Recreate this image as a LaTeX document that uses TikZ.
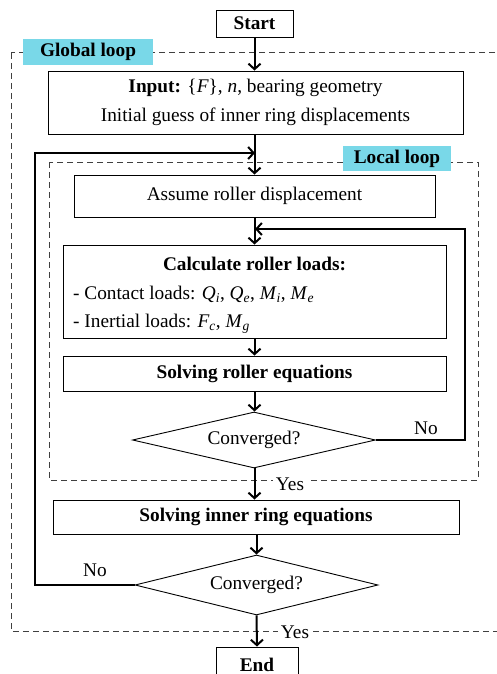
\documentclass[tikz,border=0pt]{standalone}
\usepackage{fontspec}
\setmainfont{Liberation Serif}
\usetikzlibrary{shapes.geometric,arrows.meta}
\definecolor{labcyan}{RGB}{121,216,232}
\tikzset{
  txt/.style={font=\fontsize{19.3}{29}\selectfont, inner sep=0pt},
  box/.style={txt, draw, line width=0.9pt, rectangle},
  dec/.style={txt, draw, line width=0.9pt, diamond, shape aspect=4.3},
  flow/.style={line width=2pt, -{Straight Barb[length=5.5pt,width=12pt,line width=2pt]}},
  frame/.style={draw=black!75, line width=1pt, dash pattern=on 6pt off 4pt},
  looplabel/.style={txt, font=\fontsize{19.3}{29}\selectfont\bfseries, fill=labcyan},
  yn/.style={txt, fill=white, inner xsep=3pt}
}
\begin{document}
\begin{tikzpicture}[x=1pt,y=-1pt]
\useasboundingbox (0,0) rectangle (497,674);
\clip (0,0) rectangle (497,674);

% loop frames
\draw[frame] (11,53) rectangle (520,631);
\draw[frame] (49,162) rectangle (478,480);
\node[looplabel, minimum width=130pt, minimum height=26pt] (gl) at (88,52) {Global loop};
\node[looplabel, minimum width=108pt, minimum height=25pt] (ll) at (397,158.5) {Local loop};

% boxes
\node[box, font=\fontsize{19.3}{29}\selectfont\bfseries, minimum width=77pt, minimum height=27pt] (start) at (254.5,23.5) {Start};
\node[box, align=center, minimum width=415pt, minimum height=63pt] (input) at (255.5,102.5)
  {\textbf{Input:} \{\textit{F}\}, \textit{n}, bearing geometry\\Initial guess of inner ring displacements};
\node[box, minimum width=361pt, minimum height=42pt] (assume) at (254.5,196) {Assume roller displacement};
\node[box, minimum width=383pt, minimum height=93pt] (calc) at (254.5,291.5) {};
\node[txt, font=\fontsize{19.3}{29}\selectfont\bfseries] (calct) at (254.5,264) {Calculate roller loads:};
\node[txt, anchor=west] (calc1) at (73,294) {- Contact loads: \textit{Q}\textsubscript{\textit{i}}, \textit{Q}\textsubscript{\textit{e}}, \textit{M}\textsubscript{\textit{i}}, \textit{M}\textsubscript{\textit{e}}};
\node[txt, anchor=west] (calc2) at (73,324) {- Inertial loads: \textit{F}\textsubscript{\textit{c}}, \textit{M}\textsubscript{\textit{g}}};
\node[box, font=\fontsize{19.3}{29}\selectfont\bfseries, minimum width=383pt, minimum height=35pt] (roller) at (254.5,373.5) {Solving roller equations};
\node[dec, minimum width=243pt, minimum height=56pt] (d1) at (254,440) {Converged?};
\node[box, font=\fontsize{19.3}{29}\selectfont\bfseries, minimum width=406pt, minimum height=34pt] (inner) at (256,517) {Solving inner ring equations};
\node[dec, minimum width=243pt, minimum height=60pt] (d2) at (256.5,585) {Converged?};
\node[box, minimum width=82pt, minimum height=36pt] (end) at (257,665) {};
\node[txt, font=\fontsize{19.3}{29}\selectfont\bfseries, anchor=base] (endt) at (257,671) {End};

% main flow
\draw[flow] (start.south) -- (start.south |- input.north);
\draw[flow] (start.south |- input.south) -- (start.south |- assume.north);
\draw[flow] (start.south |- assume.south) -- (start.south |- calc.north);
\draw[flow] (start.south |- calc.south) -- (start.south |- roller.north);
\draw[flow] (start.south |- roller.south) -- (start.south |- d1.north);
\draw[flow] (start.south |- d1.south) -- (start.south |- inner.north);
\draw[flow] (d2.north |- inner.south) -- (d2.north);
\draw[flow] (d2.south) -- (end.north);

% loops
\coordinate (rc) at (465,229);
\coordinate (m1) at (255,229);
\draw[flow] (d1.east) -| (rc) -- (m1);
\coordinate (lc) at (35,153);
\coordinate (m2) at (255,153);
\draw[flow] (d2.west) -| (lc) -- (m2);

% labels
\node[txt] (no1) at (426,428) {No};
\node[yn] (yes1) at (290,484) {Yes};
\node[txt] (no2) at (95,570) {No};
\node[yn] (yes2) at (295,632) {Yes};
\end{tikzpicture}
\end{document}
